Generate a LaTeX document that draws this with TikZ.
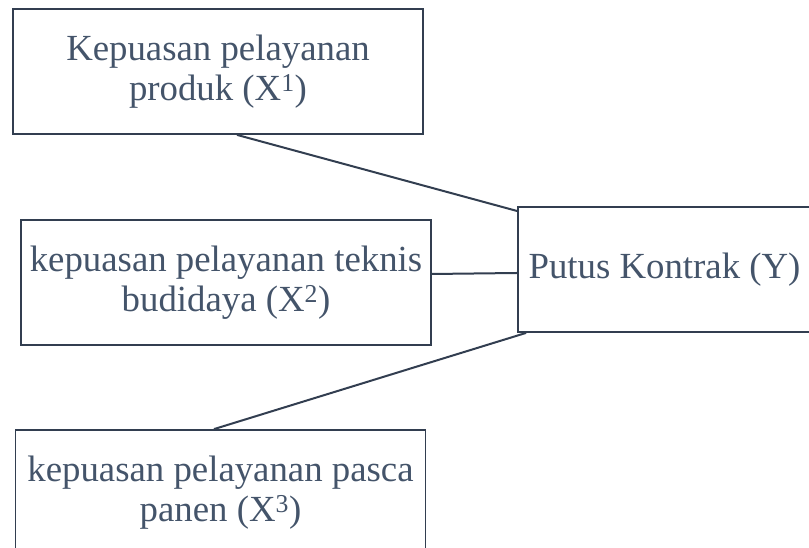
\documentclass[tikz,border=0pt]{standalone}
\usepackage{fontspec}
\setmainfont{Liberation Serif}
\definecolor{txt}{HTML}{44546A}
\definecolor{edge}{HTML}{323E50}
\begin{document}
\begin{tikzpicture}[x=1pt,y=1pt,
  box/.style={draw=edge, line width=1.8pt, minimum width=410pt, minimum height=125pt, inner sep=0pt,
    align=center, text=txt, font=\fontsize{36.8}{40}\selectfont},
  link/.style={draw=edge, line width=2pt}]
\clip (0,0) rectangle (809,548);
\node[box] (b1) at (218,476.5) {Kepuasan pelayanan\\produk (X\textsuperscript{1})};
\node[box] (b2) at (226,265.5) {kepuasan pelayanan teknis\\budidaya (X\textsuperscript{2})};
\node[box] (b3) at (220.5,55.5) {kepuasan pelayanan pasca\\panen (X\textsuperscript{3})};
\node[box, minimum width=293pt] (y) at (664.5,278.5) {Putus Kontrak (Y)};
\draw[link] ([xshift=19pt]b1.south) -- ([yshift=58.5pt]y.west);
\draw[link] ([yshift=8.5pt]b2.east) -- ([yshift=-3.5pt]y.west);
\draw[link] ([xshift=-6.5pt]b3.north) -- ([xshift=9pt]y.south west);
\end{tikzpicture}
\end{document}
